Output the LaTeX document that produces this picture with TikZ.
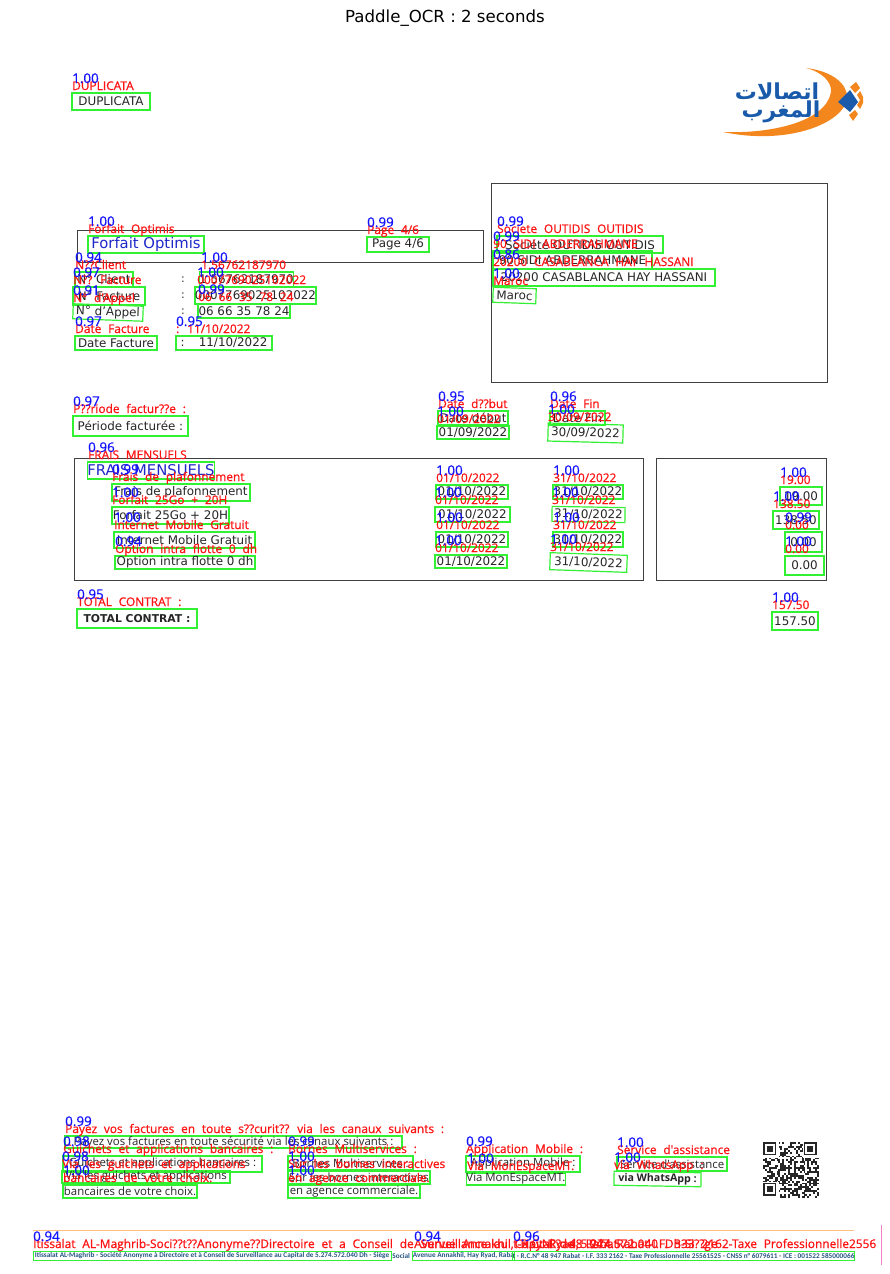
\documentclass[tikz,border=0pt]{standalone}
\usepackage{fontspec}
\setmainfont{DejaVu Sans}
\newfontfamily\ocrfont[WordSpace=2.2,FakeBold=0.9]{Open Sans}
\newfontfamily\scorefont[FakeBold=0.6]{Open Sans}
\newfontfamily\bottomfont{Open Sans}
\newfontfamily\footfont{Carlito}
\newfontfamily\arabicfont[Script=Arabic]{DejaVu Sans}
\TeXXeTstate=1
\definecolor{ocrgreen}{RGB}{50,240,50}
\definecolor{ocrred}{RGB}{255,20,20}
\definecolor{ocrblue}{RGB}{20,20,255}
\definecolor{docblue}{RGB}{30,40,200}
\definecolor{footblue}{RGB}{35,85,130}
\definecolor{logoblue}{RGB}{25,90,170}
\definecolor{logoorange}{RGB}{243,135,30}
\pgfdeclarelayer{ocrlayer}
\pgfsetlayers{main,ocrlayer}
\tikzset{
  ocrbox/.style={draw=ocrgreen,line width=1.2pt,inner sep=0pt,text=black!85,font=\fontsize{11.9}{12}\selectfont},
  ocrtext/.style={anchor=base west,inner sep=0pt,text=ocrred,font=\ocrfont\fontsize{11.9}{12}\selectfont},
  ocrscore/.style={anchor=base west,inner sep=0pt,text=ocrblue,font=\scorefont\fontsize{13.4}{12}\selectfont},
  frame/.style={draw=black!75,line width=0.9pt},
  bluedoc/.style={text=docblue,font=\fontsize{14.8}{14}\selectfont},
  bolddoc/.style={font=\bfseries\fontsize{10.8}{12}\selectfont},
  footdoc/.style={text=footblue,line width=1pt,font=\footfont\bfseries\fontsize{7.25}{7}\selectfont},
  smalldoc/.style={font=\bottomfont\fontsize{11.4}{11}\selectfont}
}
% #1 options, #2 name, #3-#6 box corners, #7 printed text, #8 read text, #9 score
\newcommand{\ocrword}[9][]{
  \node[ocrbox,minimum width={(#5-#3)*1pt},minimum height={(#6-#4)*1pt},#1] (#2) at ({(#3+#5)/2},{(#4+#6)/2}) {#7};
  \begin{pgfonlayer}{ocrlayer}
    \node[ocrtext] (#2_read) at (#3,#4-3) {#8};
    \node[ocrscore] (#2_score) at (#3,#4-10) {#9};
  \end{pgfonlayer}
}
\begin{document}
\begin{tikzpicture}[x=1pt,y=-1pt]
\useasboundingbox (0,0) rectangle (890,1274);
\node[font=\fontsize{16.6}{18}\selectfont] (title) at (445,18) {Paddle\_OCR : 2 seconds};
% logo
\fill[logoorange] (806,68) .. controls (832,71) and (848,84) .. (847,98)
  .. controls (845,122) and (790,146) .. (723,132)
  .. controls (770,134) and (826,122) .. (831,92)
  .. controls (832,82) and (822,72) .. (806,68) -- cycle;
\fill[logoblue] (838,102) -- (850,90) -- (858,102) -- (850,112) -- cycle;
\fill[logoorange] (850,87) -- (856,82) -- (860,88) -- (855,93) -- cycle;
\fill[logoorange] (857,95) -- (860,91) -- (863,97) -- (863,103) -- (860,109) -- (857,105) -- (860,100) -- cycle;
\fill[logoorange] (849,115) -- (855,110) -- (858,114) -- (853,121) -- cycle;
\node[text=logoblue,font=\arabicfont\bfseries\fontsize{22}{22}\selectfont] (logo_a) at (777,91) {\beginR اتصالات\endR};
\node[text=logoblue,font=\arabicfont\bfseries\fontsize{22}{22}\selectfont] (logo_b) at (781,112) {\beginR المغرب\endR};
% frames
\draw[frame] (77,230) rectangle (483,262);
\draw[frame] (491,183) rectangle (827,382);
\draw[frame] (74,458) rectangle (643,580);
\draw[frame] (656,458) rectangle (826,580);
\draw[orange!50,line width=0.9pt] (33,1230) -- (854,1230);
% colons
\foreach \i/\y in {0/280,1/296,2/312} {
  \node[font=\fontsize{11}{12}\selectfont,text=black!85] (colon_\i) at (183,\y) {:};
}
% header
\ocrword{duplicata}{72}{93}{150}{110}{DUPLICATA}{DUPLICATA}{1.00}
\ocrword[bluedoc]{forfait}{88}{236}{204}{253}{Forfait Optimis}{Forfait Optimis}{1.00}
\ocrword{page}{367}{237}{429}{252}{Page 4/6}{Page 4/6}{0.99}
\ocrword{client}{75}{272}{133}{287}{N° Client}{N??Client}{0.94}
\ocrword{clientno}{201}{272}{292}{287}{1 56762187970}{1.56762187970}{1.00}
\ocrword{facture}{73}{287}{145}{305}{N° Facture}{N?? Facture}{0.97}
\ocrword{factureno}{197}{287}{314}{304}{0007769025102022}{0007769025102022}{1.00}
\ocrword[rotate=-2]{appel}{73}{305}{143}{320}{N° d'Appel}{N° d'Appel}{0.91}
\ocrword{appelno}{198}{304}{290}{318}{06 66 35 78 24}{06 66 35 78 24}{0.99}
\ocrword{datefact}{75}{336}{157}{350}{Date Facture}{Date Facture}{0.97}
\ocrword{datefactno}{176}{336}{272}{350}{:\hspace{1.2em}11/10/2022}{: 11/10/2022}{0.95}
% address
\ocrword{societe}{497}{236}{663}{253}{Société OUTIDIS OUTIDIS}{Societe OUTIDIS OUTIDIS}{0.99}
\ocrword{sidi}{493}{251}{652}{269}{90 SIDI ABDERRAHMANE}{90 SIDI ABDERRAHMANE}{0.99}
\ocrword{casa}{493}{269}{715}{286}{20200 CASABLANCA HAY HASSANI}{20200 CASABLANCA HAY HASSANI}{0.86}
\ocrword[rotate=-2]{maroc}{493}{288}{536}{303}{Maroc}{Maroc}{1.00}
% period
\ocrword{periode}{73}{416}{188}{436}{Période facturée :}{P??riode factur??e :}{0.97}
\ocrword{datedeb}{438}{411}{508}{425}{Date début}{Date d??but}{0.95}
\ocrword{datedebno}{437}{426}{509}{439}{01/09/2022}{01/09/2022}{1.00}
\ocrword{datefin}{550}{411}{605}{425}{Date Fin}{Date Fin}{0.96}
\ocrword[rotate=-1.5]{datefinno}{548}{424}{623}{442}{30/09/2022}{30/09/2022}{1.00}
% lines
\ocrword[bluedoc]{frais}{88}{462}{214}{479}{FRAIS MENSUELS}{FRAIS MENSUELS}{0.96}
\ocrword{plafond}{112}{484}{250}{501}{Frais de plafonnement}{Frais de plafonnement}{0.99}
\ocrword{gofait}{112}{507}{229}{524}{Forfait 25Go + 20H}{Forfait 25Go + 20H}{1.00}
\ocrword{internet}{114}{532}{255}{548}{Internet Mobile Gratuit}{Internet Mobile Gratuit}{1.00}
\ocrword{option}{115}{556}{255}{569}{Option intra flotte 0 dh}{Option intra flotte 0 dh}{0.94}
\ocrword{deba}{436}{485}{508}{499}{01/10/2022}{01/10/2022}{1.00}
\ocrword{debb}{435}{507}{510}{522}{01/10/2022}{01/10/2022}{1.00}
\ocrword{debc}{436}{532}{508}{547}{01/10/2022}{01/10/2022}{1.00}
\ocrword{debd}{435}{555}{507}{568}{01/10/2022}{01/10/2022}{1.00}
\ocrword{fina}{553}{485}{623}{499}{31/10/2022}{31/10/2022}{1.00}
\ocrword[rotate=-1]{finb}{552}{507}{625}{522}{31/10/2022}{31/10/2022}{1.00}
\ocrword{finc}{553}{532}{623}{547}{31/10/2022}{31/10/2022}{1.00}
\ocrword[rotate=-2]{find}{550}{554}{627}{571}{31/10/2022}{31/10/2022}{1.00}
\ocrword{mta}{780}{487}{822}{505}{19.00}{19.00}{1.00}
\ocrword{mtb}{773}{511}{819}{529}{138.50}{138.50}{1.00}
\ocrword{mtc}{785}{532}{822}{552}{0.00}{0.00}{0.99}
\ocrword{mtd}{785}{556}{824}{575}{0.00}{0.00}{1.00}
\ocrword[bolddoc]{total}{77}{609}{197}{628}{TOTAL CONTRAT :}{TOTAL CONTRAT :}{0.95}
\ocrword{totalno}{772}{612}{818}{630}{157.50}{157.50}{1.00}
% bottom
\ocrword[smalldoc]{payez}{65}{1136}{402}{1148}{Payez vos factures en toute sécurité via les canaux suivants :}{Payez vos factures en toute s??curit?? via les canaux suivants :}{0.99}
\ocrword[smalldoc]{guichets}{63}{1156}{262}{1172}{Guichets et applications bancaires :}{Guichets et applications bancaires :}{0.98}
\ocrword[smalldoc]{vialesg}{62}{1171}{230}{1183}{Via les guichets et applications}{Via les guichets et applications}{0.98}
\ocrword[smalldoc]{bancaires}{63}{1185}{197}{1198}{bancaires de votre choix.}{bancaires de votre choix.}{1.00}
\ocrword[smalldoc]{bornes}{288}{1156}{413}{1170}{Bornes Multiservices :}{Bornes Multiservices :}{0.99}
\ocrword[smalldoc]{surles}{288}{1171}{430}{1184}{Sur les bornes interactives}{Sur les bornes interactives}{1.00}
\ocrword[smalldoc]{agence}{288}{1185}{420}{1198}{en agence commerciale.}{en agence commerciale.}{1.00}
\ocrword[smalldoc]{appmob}{466}{1156}{580}{1172}{Application Mobile :}{Application Mobile :}{0.99}
\ocrword[smalldoc]{monesp}{467}{1173}{565}{1185}{Via MonEspaceMT.}{Via MonEspaceMT.}{1.00}
\ocrword[smalldoc]{service}{617}{1157}{727}{1171}{Service d'assistance}{Service d'assistance}{1.00}
\ocrword[rotate=-1,font=\bottomfont\bfseries\fontsize{10.6}{11}\selectfont]{whats}{614}{1172}{701}{1186}{via WhatsApp :}{via WhatsApp :}{1.00}
% footer
\node[text=footblue,inner sep=0pt,font=\footfont\bfseries\fontsize{7.25}{7}\selectfont] (social) at (403,1255.5) {Social :};
\ocrword[footdoc]{foota}{33}{1251}{391}{1260}{Itissalat AL-Maghrib - Société Anonyme à Directoire et à Conseil de Surveillance au Capital de 5.274.572.040 Dh - Siège}{Itissalat AL-Maghrib-Soci??t??Anonyme??Directoire et a Conseil de Surveillance au Capital de 5.274.572.040 Dh-Si??ge}{0.94}
\ocrword[footdoc]{footb}{414}{1251}{513}{1260}{Avenue Annakhil, Hay Ryad, Raba}{Avenue Annakhil, Hay Ryad, Rabat}{0.94}
\ocrword[footdoc]{footc}{513}{1251}{854}{1260}{t - R.C.N° 48 947 Rabat - I.F. 333 2162 - Taxe Professionnelle 25561525 - CNSS n° 6079611 - ICE : 001522 585000066}{t-R.C.N?? 48 947 Rabat-I.F. 333 2162-Taxe Professionnelle2556}{0.96}
\draw[magenta!50,line width=0.9pt] (881,1225) -- (881,1265);
% qr code
\pgfmathsetseed{41}
\def\qrsize{1.93}
\foreach \i in {0,...,28} {
  \foreach \j in {0,...,28} {
    \pgfmathtruncatemacro{\q}{rnd>0.5}
    \ifnum\q=1
      \fill[black!85] ({763+\i*\qrsize},{1142+\j*\qrsize}) rectangle ++(\qrsize,\qrsize);
    \fi
  }
}
\foreach \x/\y in {763/1142,803.5/1142,763/1182.5} {
  \fill[white] (\x-1,\y-1) rectangle ++(17,17);
  \draw[black!85,line width=\qrsize pt] (\x+1,\y+1) rectangle ++(11.5,11.5);
  \fill[black!85] (\x+3.9,\y+3.9) rectangle ++(5.8,5.8);
}
\end{tikzpicture}
\end{document}
